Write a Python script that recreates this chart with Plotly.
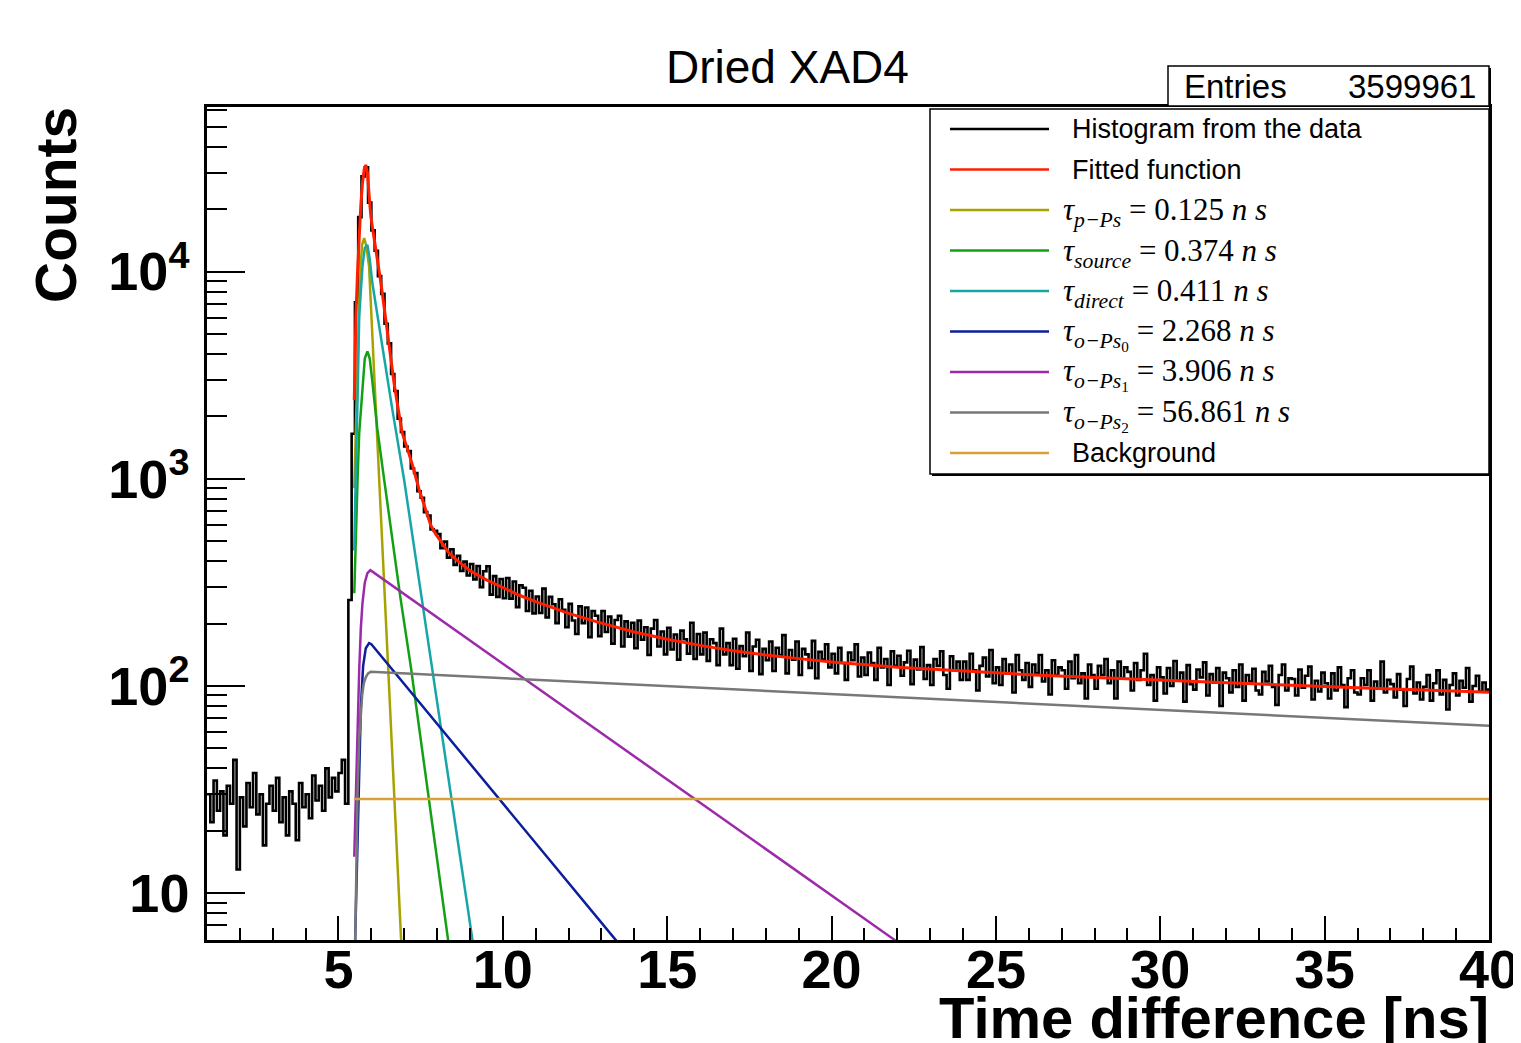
import plotly.graph_objects as go

# ------------------------------------------------------------------ data
title_text = "Dried XAD4"
entries = 3599961
x_title = "Time difference [ns]"
y_title = "Counts"

# histogram (0.1 ns bins starting at 1.0 ns)
bin_start = 1.0
bin_width = 0.1
counts_below_peak = [30, 22, 35, 25, 31, 19, 33, 27, 44, 13,
                     29, 21, 34, 26, 38, 24, 30, 17, 27, 33,
                     25, 36, 22, 29, 19, 31, 27, 18, 34, 26,
                     30, 23, 37, 28, 33, 25, 40, 29, 36, 31,
                     38, 44, 27]
counts_peak = [260, 1650, 7100, 18300, 28800, 31800, 21500, 15800, 12600,
               9500, 7800, 5600, 4500, 3200, 2650, 1950, 1680]
counts_7_to_20 = [1430, 1360, 1120, 1065, 870, 810, 690, 665, 570, 560,
                  541, 462, 497, 416, 457, 384, 425, 359, 398, 341,
                  388, 327, 379, 300, 358, 378, 276, 339, 269, 328,
                  265, 332, 264, 319, 240, 306, 298, 230, 288, 224,
                  270, 225, 295, 214, 269, 248, 201, 262, 233, 192,
                  249, 207, 178, 242, 201, 239, 172, 230, 218, 174,
                  230, 182, 216, 160, 208, 218, 155, 205, 173, 202,
                  152, 207, 167, 192, 141, 189, 208, 155, 183, 142,
                  191, 150, 177, 134, 185, 168, 143, 202, 135, 178,
                  142, 181, 132, 168, 161, 126, 189, 142, 161, 126,
                  169, 121, 156, 139, 181, 118, 155, 167, 114, 151,
                  133, 164, 118, 153, 141, 176, 115, 149, 134, 164,
                  113, 151, 142, 122, 165, 109, 146, 134, 159, 123]
counts_20_to_40 = [143, 115, 153, 129, 107, 145, 133, 159, 111, 137,
                   113, 145, 129, 107, 153, 123, 135, 101, 147, 125,
                   140, 112, 130, 148, 102, 134, 120, 154, 108, 126,
                   101, 135, 125, 147, 113, 97, 139, 119, 131, 107,
                   131, 107, 143, 119, 95, 125, 137, 111, 149, 103,
                   123, 101, 135, 115, 127, 93, 141, 119, 107, 129,
                   99, 127, 115, 141, 105, 119, 91, 133, 113, 123,
                   119, 97, 131, 109, 141, 103, 115, 87, 127, 113,
                   97, 125, 113, 135, 103, 119, 87, 131, 109, 123,
                   117, 95, 129, 107, 119, 143, 101, 113, 85, 123,
                   110, 92, 122, 100, 132, 106, 116, 84, 126, 102,
                   96, 120, 110, 130, 90, 114, 104, 122, 80, 116,
                   109, 93, 119, 99, 127, 85, 113, 105, 121, 95,
                   91, 117, 105, 125, 99, 81, 113, 127, 95, 109,
                   108, 90, 120, 98, 112, 124, 86, 106, 94, 116,
                   103, 87, 115, 95, 123, 101, 79, 109, 119, 93,
                   91, 109, 101, 119, 85, 105, 97, 131, 93, 107,
                   102, 88, 114, 96, 80, 108, 124, 92, 104, 86,
                   99, 113, 85, 103, 119, 91, 107, 77, 101, 115,
                   90, 106, 98, 122, 84, 100, 112, 94, 104, 96]

# fitted function (red)
fit_x = [5.48, 5.53, 5.58, 5.63, 5.68, 5.73, 5.78, 5.83, 5.88, 5.93, 5.985,
         6.06, 6.14, 6.22, 6.29, 6.39, 6.49, 6.59, 6.69, 6.81, 6.94, 7.1,
         7.25, 7.45, 7.65, 7.8, 7.96, 8.15, 8.36, 8.6, 9.0, 9.5, 10, 10.5,
         11, 11.5, 12, 13, 14, 15, 16, 17, 18, 19, 20, 22, 24, 26, 28, 30,
         32, 34, 36, 38, 40]
fit_y = [2400, 6060, 10000, 15400, 21000, 26700, 31000, 32700, 30000, 23500,
         18400, 15300, 12700, 10500, 8820, 6700, 5060, 3900, 2900, 2200,
         1660, 1390, 1163, 890, 703, 600, 540, 486, 438, 405, 360, 325, 297,
         274, 255, 239, 224, 201, 182, 168, 157, 148, 141, 135.5, 130.5,
         123, 118, 113.4, 109.7, 106.4, 103.5, 100.7, 98, 95.6, 93.3]

# p-Ps component (tau = 0.125 ns)
pps_x = [5.48, 5.53, 5.58, 5.63, 5.67, 5.72, 5.78, 5.85, 5.93, 6.95]
pps_y = [900, 2000, 3800, 7000, 10600, 13500, 14500, 13200, 10600, 4.2]

# source component (tau = 0.374 ns)
source_x = [5.48, 5.53, 5.58, 5.63, 5.73, 5.8, 5.88, 5.95, 6.03, 6.18, 6.35,
            6.63, 6.88, 7.2, 8.35]
source_y = [280, 620, 986, 1660, 2900, 3800, 4120, 3800, 2950, 1750, 1100,
            526, 269, 124, 5.7]

# direct component (tau = 0.411 ns)
direct_x = [5.48, 5.5, 5.53, 5.58, 5.63, 5.73, 5.8, 5.88, 5.95, 6.03, 6.34,
            6.64, 7.0, 7.6, 7.86, 9.1]
direct_y = [450, 700, 1143, 2400, 6060, 10600, 13000, 13450, 11500, 8800,
            4190, 2150, 980, 225, 118, 5.6]

# o-Ps0 component (tau = 2.268 ns)
ops0_x = [5.48, 5.53, 5.58, 5.63, 5.68, 5.75, 5.83, 5.93, 6.0, 13.45]
ops0_y = [4, 9, 18, 40, 79, 125, 152, 161, 159, 5.9]

# o-Ps1 component (tau = 3.906 ns)
ops1_x = [5.48, 5.53, 5.58, 5.63, 5.68, 5.73, 5.8, 5.88, 5.97, 21.95]
ops1_y = [15, 32, 65, 119, 190, 251, 315, 350, 362, 5.9]

# o-Ps2 component (tau = 56.861 ns)
ops2_x = [5.48, 5.53, 5.58, 5.63, 5.68, 5.72, 5.77, 5.83, 5.9, 5.98, 40]
ops2_y = [3, 12, 30, 55, 78, 90, 103, 110, 115, 117, 64.3]

# background
bkg_x = [5.48, 40]
bkg_y = [28.5, 28.5]

legend_labels = [
    "Histogram from the data",
    "Fitted function",
    "<i>τ</i><sub><i>p−Ps</i></sub> = 0.125 <i>n s</i>",
    "<i>τ</i><sub><i>source</i></sub> = 0.374 <i>n s</i>",
    "<i>τ</i><sub><i>direct</i></sub> = 0.411 <i>n s</i>",
    "<i>τ</i><sub><i>o−Ps</i><sub>0</sub></sub> = 2.268 <i>n s</i>",
    "<i>τ</i><sub><i>o−Ps</i><sub>1</sub></sub> = 3.906 <i>n s</i>",
    "<i>τ</i><sub><i>o−Ps</i><sub>2</sub></sub> = 56.861 <i>n s</i>",
    "Background",
]

x_major_ticks = [5, 10, 15, 20, 25, 30, 35, 40]
x_minor_ticks = [2, 3, 4, 6, 7, 8, 9, 11, 12, 13, 14, 16, 17, 18, 19, 21, 22,
                 23, 24, 26, 27, 28, 29, 31, 32, 33, 34, 36, 37, 38, 39]
y_major_ticks = [10, 100, 1000, 10000]
y_major_text = ["10", "10<sup>2</sup>", "10<sup>3</sup>", "10<sup>4</sup>"]
y_minor_ticks = [6, 7, 8, 9, 20, 30, 40, 50, 60, 70, 80, 90,
                 200, 300, 400, 500, 600, 700, 800, 900,
                 2000, 3000, 4000, 5000, 6000, 7000, 8000, 9000,
                 20000, 30000, 40000, 50000, 60000]

# ------------------------------------------------------------------ style
BLACK = "#000000"
RED = "#ff1e00"
OLIVE = "#a8a200"
GREEN = "#14a014"
CYAN = "#17a6a8"
BLUE = "#0b1f9a"
PURPLE = "#9c2aaa"
GRAY = "#787878"
ORANGE = "#d9a03a"

# the page body adds an 8 px offset; the figure is sized so that the
# plot frame lands at screen x 207..1489, y 107..940
OFF = 8
W, H = 1521 - OFF, 1043 - OFF
ML, MR, MT, MB = 207 - OFF, W - (1489 - OFF), 107 - OFF, H - (940 - OFF)
PW, PH = W - ML - MR, H - MT - MB


def fx(p):
    """screen pixel x -> paper x"""
    return (p - OFF - ML) / PW


def fy(p):
    """screen pixel y -> paper y"""
    return (H - MB - (p - OFF)) / PH


counts = counts_below_peak + counts_peak + counts_7_to_20 + counts_20_to_40
edges = [round(bin_start + i * bin_width, 4) for i in range(len(counts) + 1)]

fig = go.Figure()
fig.add_trace(go.Scatter(x=edges, y=counts + [counts[-1]], mode="lines",
                         line=dict(color=BLACK, width=2.6, shape="hv"),
                         showlegend=False, hoverinfo="skip"))

series = [
    (pps_x, pps_y, OLIVE, 2.5),
    (source_x, source_y, GREEN, 2.5),
    (direct_x, direct_y, CYAN, 2.5),
    (ops0_x, ops0_y, BLUE, 2.5),
    (ops1_x, ops1_y, PURPLE, 2.5),
    (ops2_x, ops2_y, GRAY, 2.5),
    (bkg_x, bkg_y, ORANGE, 2.5),
    (fit_x, fit_y, RED, 3),
]
for xs, ys, col, w in series:
    fig.add_trace(go.Scatter(x=xs, y=ys, mode="lines",
                             line=dict(color=col, width=w),
                             showlegend=False, hoverinfo="skip"))

shapes = []
annotations = []

# legend box (with ROOT-like shadow)
lx0, lx1, ly0, ly1 = 930, 1489, 109, 474
shapes.append(dict(type="rect", xref="paper", yref="paper",
                   x0=fx(lx0), x1=fx(lx1), y0=fy(ly1), y1=fy(ly0),
                   line=dict(color=BLACK, width=1.5), fillcolor="white"))
shapes.append(dict(type="line", xref="paper", yref="paper",
                   x0=fx(lx0 + 2), x1=fx(lx1 + 1), y0=fy(ly1 + 1), y1=fy(ly1 + 1),
                   line=dict(color=BLACK, width=2)))
shapes.append(dict(type="line", xref="paper", yref="paper",
                   x0=fx(lx1 + 1), x1=fx(lx1 + 1), y0=fy(ly1 + 1), y1=fy(ly0 + 2),
                   line=dict(color=BLACK, width=2)))

legend_colors = [BLACK, RED, OLIVE, GREEN, CYAN, BLUE, PURPLE, GRAY, ORANGE]
row0, row_step = 129, 40.5
for i, (lab, col) in enumerate(zip(legend_labels, legend_colors)):
    yy = row0 + i * row_step
    shapes.append(dict(type="line", xref="paper", yref="paper",
                       x0=fx(950), x1=fx(1049), y0=fy(yy), y1=fy(yy),
                       line=dict(color=col, width=2.5)))
    is_tex = lab.startswith("<i>τ")
    annotations.append(dict(
        xref="paper", yref="paper",
        x=fx(1061 if is_tex else 1070), y=fy(yy + (2 if is_tex else 0)),
        xanchor="left", yanchor="middle", showarrow=False, text=lab,
        font=dict(family="Liberation Serif" if is_tex else "Liberation Sans",
                  size=31 if is_tex else 27, color=BLACK)))

# statistics box
sx0, sx1, sy0, sy1 = 1168, 1489, 66, 106
shapes.append(dict(type="rect", xref="paper", yref="paper",
                   x0=fx(sx0), x1=fx(sx1), y0=fy(sy1), y1=fy(sy0),
                   line=dict(color=BLACK, width=1.5), fillcolor="white"))
shapes.append(dict(type="line", xref="paper", yref="paper",
                   x0=fx(sx1 + 1), x1=fx(sx1 + 1), y0=fy(sy1), y1=fy(sy0 + 2),
                   line=dict(color=BLACK, width=2)))
annotations.append(dict(xref="paper", yref="paper", x=fx(1182), y=fy(86),
                        xanchor="left", yanchor="middle", showarrow=False,
                        text="Entries",
                        font=dict(family="Liberation Sans", size=33, color=BLACK)))
annotations.append(dict(xref="paper", yref="paper", x=fx(1478), y=fy(86),
                        xanchor="right", yanchor="middle", showarrow=False,
                        text=str(entries),
                        font=dict(family="Liberation Sans", size=33, color=BLACK)))

# title
annotations.append(dict(xref="paper", yref="paper", x=fx(787), y=fy(67),
                        xanchor="center", yanchor="middle", showarrow=False,
                        text=title_text,
                        font=dict(family="Liberation Sans", size=46, color=BLACK)))
# axis titles
annotations.append(dict(xref="paper", yref="paper", x=fx(1491), y=fy(1017),
                        xanchor="right", yanchor="middle", showarrow=False,
                        text=x_title,
                        font=dict(family="Liberation Sans", size=58,
                                  color=BLACK, weight="bold")))
annotations.append(dict(xref="paper", yref="paper", x=fx(56), y=fy(205),
                        xanchor="center", yanchor="middle", showarrow=False,
                        text=y_title, textangle=-90,
                        font=dict(family="Liberation Sans", size=57,
                                  color=BLACK, weight="bold")))

tick_font = dict(family="Liberation Sans", size=54, color=BLACK, weight="bold")

fig.update_layout(
    width=W, height=H,
    margin=dict(l=ML, r=MR, t=MT, b=MB, pad=0, autoexpand=False),
    paper_bgcolor="white", plot_bgcolor="white",
    showlegend=False,
    shapes=shapes, annotations=annotations,
    xaxis=dict(range=[1, 40], showgrid=False, zeroline=False, automargin=False,
               showline=True, linecolor=BLACK, linewidth=2.5, mirror=True,
               ticks="inside", ticklen=24, tickwidth=1.5, tickcolor=BLACK,
               tickmode="array", tickvals=x_major_ticks,
               ticktext=[str(v) for v in x_major_ticks],
               tickfont=tick_font, ticklabelstandoff=-20,
               minor=dict(ticks="inside", ticklen=12, tickwidth=1.5,
                          tickcolor=BLACK, tickmode="array",
                          tickvals=x_minor_ticks, showgrid=False)),
    yaxis=dict(type="log", range=[0.774, 4.794], showgrid=False,
               automargin=False,
               zeroline=False, showline=True, linecolor=BLACK, linewidth=2.5,
               mirror=True, ticks="inside", ticklen=38, tickwidth=1.5,
               tickcolor=BLACK, tickmode="array", tickvals=y_major_ticks,
               ticktext=y_major_text, tickfont=tick_font,
               ticklabelstandoff=4,
               minor=dict(ticks="inside", ticklen=20, tickwidth=1.5,
                          tickcolor=BLACK, tickmode="array",
                          tickvals=y_minor_ticks, showgrid=False)),
)

fig.write_html("out.html")
